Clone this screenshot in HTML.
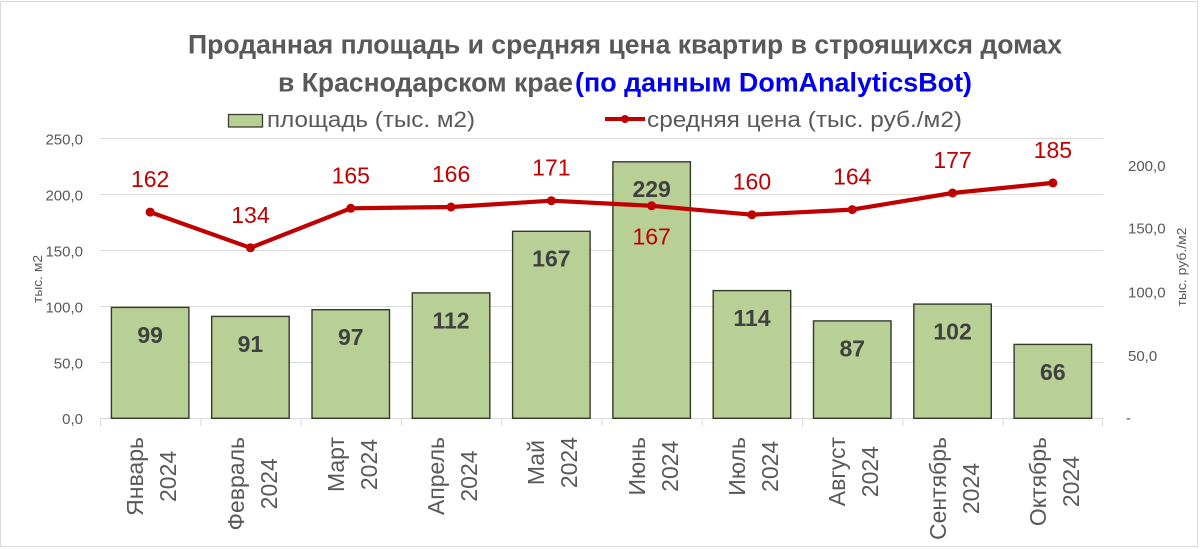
<!DOCTYPE html>
<html><head><meta charset="utf-8">
<style>
html,body{margin:0;padding:0;background:#fff;}
#wrap{position:relative;width:1200px;height:549px;overflow:hidden;background:#fff;font-family:"Liberation Sans","DejaVu Sans",sans-serif;}
svg{position:absolute;left:0;top:0;}
.m{position:absolute;top:437px;width:0;height:0;}
.m span{position:absolute;left:0;top:0;transform-origin:0 0;transform:rotate(-90deg) translate(-100%,-50%);white-space:nowrap;text-align:center;font-size:23px;line-height:33px;color:#595959;font-family:"Liberation Sans","DejaVu Sans",sans-serif;}
</style></head><body>
<div id="wrap">
<svg width="1200" height="549" viewBox="0 0 1200 549" xmlns="http://www.w3.org/2000/svg" font-family="Liberation Sans, DejaVu Sans, sans-serif">
<rect x="0.5" y="1.5" width="1197" height="545" fill="#fff" stroke="#D9D9D9" stroke-width="1"/>
<!-- title -->
<text x="188" y="53.3" font-size="27" font-weight="bold" fill="#595959" textLength="874" lengthAdjust="spacingAndGlyphs">Проданная площадь и средняя цена квартир в строящихся домах</text>
<text x="278" y="91.7" font-size="27" font-weight="bold" fill="#595959" textLength="295" lengthAdjust="spacingAndGlyphs">в Краснодарском крае</text>
<text x="575" y="91.7" font-size="27" font-weight="bold" fill="#0000F0" textLength="397" lengthAdjust="spacingAndGlyphs">(по данным DomAnalyticsBot)</text>
<!-- legend -->
<rect x="228.5" y="114.5" width="34" height="12.5" fill="#B8CF95" stroke="#3A3F33" stroke-width="1.3"/>
<text x="267" y="127" font-size="22" fill="#595959" textLength="208" lengthAdjust="spacingAndGlyphs">площадь (тыс. м2)</text>
<line x1="605" y1="119" x2="645" y2="119" stroke="#C00000" stroke-width="4"/>
<circle cx="625" cy="119" r="4" fill="#C00000"/>
<text x="647" y="127" font-size="22" fill="#595959" textLength="315" lengthAdjust="spacingAndGlyphs">средняя цена (тыс. руб./м2)</text>
<!-- gridlines -->
<g stroke="#D9D9D9" stroke-width="1">
<line x1="100" y1="138.5" x2="1103" y2="138.5"/>
<line x1="100" y1="194.5" x2="1103" y2="194.5"/>
<line x1="100" y1="250.5" x2="1103" y2="250.5"/>
<line x1="100" y1="306.5" x2="1103" y2="306.5"/>
<line x1="100" y1="362.5" x2="1103" y2="362.5"/>
<line x1="100" y1="418.5" x2="1103" y2="418.5"/>
<line x1="100.5" y1="418" x2="100.5" y2="426"/>
<line x1="200.8" y1="418" x2="200.8" y2="426"/>
<line x1="301.1" y1="418" x2="301.1" y2="426"/>
<line x1="401.4" y1="418" x2="401.4" y2="426"/>
<line x1="501.7" y1="418" x2="501.7" y2="426"/>
<line x1="602" y1="418" x2="602" y2="426"/>
<line x1="702.3" y1="418" x2="702.3" y2="426"/>
<line x1="802.6" y1="418" x2="802.6" y2="426"/>
<line x1="902.9" y1="418" x2="902.9" y2="426"/>
<line x1="1003.2" y1="418" x2="1003.2" y2="426"/>
<line x1="1102.5" y1="418" x2="1102.5" y2="426"/>
</g>
<!-- left axis labels -->
<g font-size="15" fill="#595959" text-anchor="end">
<text x="83" y="144.5">250,0</text>
<text x="83" y="200.5">200,0</text>
<text x="83" y="256.5">150,0</text>
<text x="83" y="312.5">100,0</text>
<text x="83" y="368.5">50,0</text>
<text x="83" y="424">0,0</text>
</g>
<text transform="translate(42,279) rotate(-90)" text-anchor="middle" font-size="13" fill="#595959" textLength="48" lengthAdjust="spacingAndGlyphs">тыс. м2</text>
<!-- right axis labels -->
<g font-size="15" fill="#595959">
<text x="1128" y="171">200,0</text>
<text x="1128" y="233.5">150,0</text>
<text x="1128" y="297.5">100,0</text>
<text x="1128" y="361">50,0</text>
<text x="1126" y="423">-</text>
</g>
<text transform="translate(1186,267) rotate(-90)" text-anchor="middle" font-size="13" fill="#595959" textLength="79" lengthAdjust="spacingAndGlyphs">тыс. руб./м2</text>
<!-- bars -->
<g fill="#B8CF95" stroke="#333A2C" stroke-width="1.4">
<rect x="111.4" y="307.4" width="77.5" height="110.9"/>
<rect x="211.7" y="316.4" width="77.5" height="101.9"/>
<rect x="312" y="309.7" width="77.5" height="108.6"/>
<rect x="412.3" y="292.9" width="77.5" height="125.4"/>
<rect x="512.6" y="231.3" width="77.5" height="187"/>
<rect x="612.9" y="161.8" width="77.5" height="256.5"/>
<rect x="713.2" y="290.6" width="77.5" height="127.7"/>
<rect x="813.5" y="320.9" width="77.5" height="97.4"/>
<rect x="913.8" y="304.1" width="77.5" height="114.2"/>
<rect x="1014.1" y="344.4" width="77.5" height="73.9"/>
</g>
<g font-size="23" font-weight="bold" fill="#404040" text-anchor="middle">
<text x="150.15" y="342.9">99</text>
<text x="250.45" y="351.9">91</text>
<text x="350.75" y="345.2">97</text>
<text x="451.05" y="328.4">112</text>
<text x="551.35" y="266.3">167</text>
<text x="651.65" y="196.8">229</text>
<text x="751.95" y="326.1">114</text>
<text x="852.25" y="356.4">87</text>
<text x="952.55" y="339.6">102</text>
<text x="1052.85" y="379.9">66</text>
</g>
<!-- price line -->
<polyline fill="none" stroke="#C00000" stroke-width="4.2" stroke-linejoin="round" points="150.15,212.1 250.45,247.8 350.75,208.3 451.05,207 551.35,200.7 651.65,205.8 751.95,214.7 852.25,209.6 952.55,193 1052.85,182.9"/>
<g fill="#C00000">
<circle cx="150.15" cy="212.1" r="4.5"/>
<circle cx="250.45" cy="247.8" r="4.5"/>
<circle cx="350.75" cy="208.3" r="4.5"/>
<circle cx="451.05" cy="207" r="4.5"/>
<circle cx="551.35" cy="200.7" r="4.5"/>
<circle cx="651.65" cy="205.8" r="4.5"/>
<circle cx="751.95" cy="214.7" r="4.5"/>
<circle cx="852.25" cy="209.6" r="4.5"/>
<circle cx="952.55" cy="193" r="4.5"/>
<circle cx="1052.85" cy="182.9" r="4.5"/>
</g>
<g font-size="23" fill="#C00000" text-anchor="middle">
<text x="150.15" y="187.1">162</text>
<text x="250.45" y="222.8">134</text>
<text x="350.75" y="183.3">165</text>
<text x="451.05" y="182">166</text>
<text x="551.35" y="175.7">171</text>
<text x="651.65" y="244.5">167</text>
<text x="751.95" y="189.7">160</text>
<text x="852.25" y="184.6">164</text>
<text x="952.55" y="168">177</text>
<text x="1052.85" y="157.9">185</text>
</g>
</svg>
<div class="m" style="left:152px"><span>Январь<br>2024</span></div>
<div class="m" style="left:252.5px"><span>Февраль<br>2024</span></div>
<div class="m" style="left:352.8px"><span>Март<br>2024</span></div>
<div class="m" style="left:453px"><span>Апрель<br>2024</span></div>
<div class="m" style="left:553.4px"><span>Май<br>2024</span></div>
<div class="m" style="left:653.7px"><span>Июнь<br>2024</span></div>
<div class="m" style="left:754px"><span>Июль<br>2024</span></div>
<div class="m" style="left:854.3px"><span>Август<br>2024</span></div>
<div class="m" style="left:954.6px"><span>Сентябрь<br>2024</span></div>
<div class="m" style="left:1054.9px"><span>Октябрь<br>2024</span></div>
</div>
</body></html>
